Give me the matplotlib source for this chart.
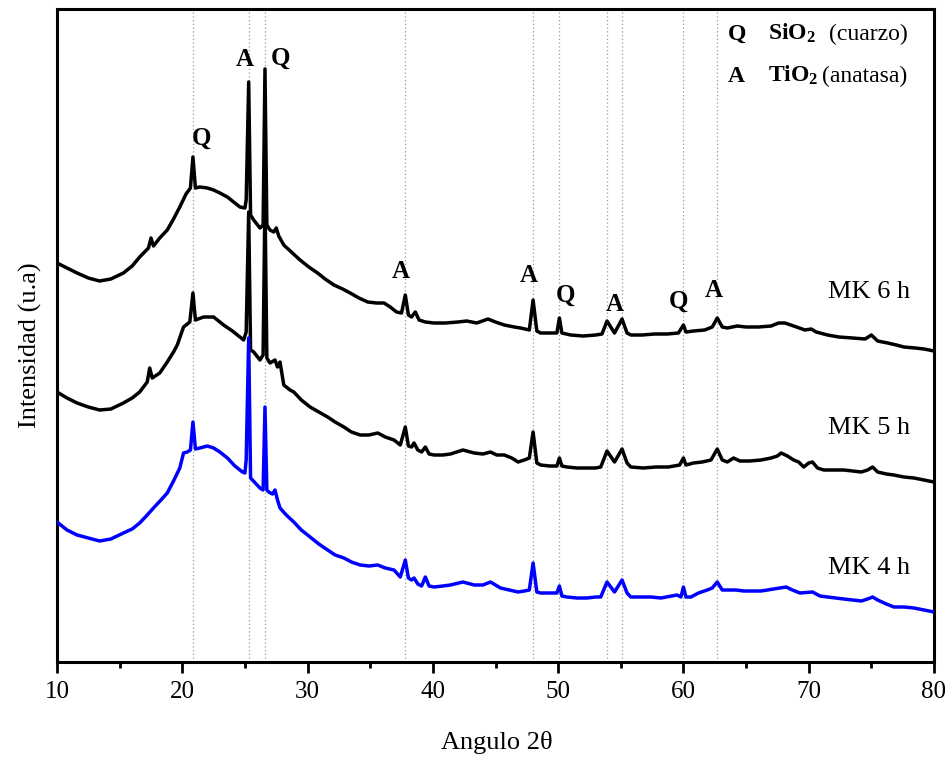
import matplotlib
matplotlib.use("Agg")
import matplotlib.pyplot as plt
from matplotlib.ticker import MultipleLocator

plt.rcParams['font.family'] = ['Liberation Serif', 'DejaVu Serif']
plt.rcParams['mathtext.fontset'] = 'custom'
plt.rcParams['mathtext.rm'] = 'Liberation Serif'
plt.rcParams['mathtext.bf'] = 'Liberation Serif:bold'
plt.rcParams['mathtext.it'] = 'Liberation Serif:italic'

# ---------------- data (2theta, intensity a.u.) ----------------
tt_6h = [10.0, 10.8, 11.6, 12.5, 13.4, 14.3, 15.3, 16.0, 16.6, 17.3, 17.5, 17.7, 18.2, 18.8, 19.3, 19.8,
         20.3, 20.65, 20.85, 21.05, 21.4, 22.0, 22.5, 23.0, 23.6, 24.1, 24.6, 25.0, 25.1, 25.3, 25.45,
         25.7, 26.2, 26.45, 26.6, 26.75, 27.0, 27.3, 27.5, 27.7, 28.1, 28.7, 29.4, 30.1, 30.8, 31.4,
         32.1, 32.8, 33.4, 34.1, 34.8, 35.5, 36.1, 36.6, 37.1, 37.5, 37.8, 38.05, 38.3, 38.6, 38.9,
         39.4, 40.1, 41.0, 42.0, 42.7, 43.5, 44.4, 45.0, 45.7, 46.5, 47.0, 47.7, 48.0, 48.3, 48.6,
         49.5, 49.9, 50.1, 50.3, 51.0, 52.0, 53.0, 53.5, 53.9, 54.5, 55.1, 55.5, 55.8, 56.7, 57.7,
         58.7, 59.6, 60.0, 60.2, 60.8, 61.7, 62.3, 62.7, 63.1, 63.5, 64.3, 65.0, 66.0, 67.0, 67.6,
         68.1, 68.8, 69.7, 70.2, 70.6, 71.5, 72.4, 73.5, 74.5, 75.0, 75.5, 76.3, 77.0, 77.6, 78.5,
         79.2, 80.0]
int_6h = [399, 394, 389, 384, 381, 383, 389, 396, 405, 414, 424, 416, 424, 432, 443, 455,
          468, 474, 505, 474, 475, 474, 472, 469, 465, 460, 455, 454, 462, 580, 447,
          442, 434, 437, 593, 437, 432, 430, 434, 426, 417, 410, 402, 395, 389, 383,
          377, 373, 369, 364, 360, 359, 359, 355, 350, 349, 367, 347, 345, 350, 342,
          340, 339, 339, 340, 341, 339, 343, 340, 337, 335, 334, 332, 362, 331, 329,
          329, 329, 344, 329, 327, 326, 327, 328, 341, 329, 343, 329, 327, 327, 328,
          328, 329, 337, 330, 331, 332, 335, 344, 335, 334, 336, 335, 335, 336, 339,
          339, 336, 332, 333, 330, 327, 325, 324, 323, 327, 321, 319, 317, 315, 314,
          313, 311]

tt_5h = [10.0, 10.8, 11.6, 12.5, 13.4, 14.3, 15.3, 16.0, 16.6, 17.2, 17.4, 17.6, 18.2, 18.8, 19.3, 19.6,
         20.1, 20.6, 20.85, 21.05, 21.7, 22.5, 23.3, 24.0, 24.4, 24.9, 25.1, 25.3, 25.45, 25.7, 26.2,
         26.45, 26.6, 26.75, 27.0, 27.4, 27.6, 27.8, 28.1, 28.6, 28.9, 29.5, 30.2, 30.9, 31.6, 32.2,
         32.9, 33.5, 34.2, 34.9, 35.6, 36.2, 36.9, 37.4, 37.8, 38.05, 38.3, 38.5, 38.8, 39.1, 39.4,
         39.7, 40.1, 40.8, 41.4, 42.4, 43.3, 44.0, 44.6, 45.1, 45.7, 46.3, 46.8, 47.3, 47.7, 48.0,
         48.3, 48.6, 49.3, 49.9, 50.1, 50.3, 50.7, 51.5, 52.3, 53.0, 53.4, 53.9, 54.5, 55.1, 55.5,
         55.8, 56.8, 57.8, 58.8, 59.7, 60.0, 60.2, 60.8, 61.5, 62.2, 62.7, 63.1, 63.5, 64.0, 64.5,
         65.3, 66.2, 67.0, 67.5, 67.8, 68.3, 68.8, 69.2, 69.6, 70.0, 70.3, 70.7, 71.2, 72.0, 72.8,
         73.5, 74.2, 74.7, 75.1, 75.5, 76.2, 76.8, 77.6, 78.4, 79.2, 80.0]
int_5h = [270, 264, 259, 255, 252, 253, 259, 264, 270, 280, 294, 284, 289, 300, 310, 317,
          335, 340, 369, 342, 345, 345, 337, 331, 327, 322, 330, 450, 312, 310, 302,
          307, 462, 304, 299, 302, 295, 300, 277, 272, 270, 262, 255, 250, 245, 240,
          235, 230, 227, 227, 229, 225, 222, 217, 235, 216, 215, 219, 212, 210, 215,
          208, 207, 207, 208, 212, 209, 208, 210, 207, 207, 204, 200, 202, 204, 230,
          199, 197, 196, 196, 204, 196, 195, 194, 194, 194, 195, 211, 200, 213, 199,
          195, 194, 195, 195, 197, 204, 197, 199, 200, 202, 213, 202, 200, 204, 201,
          201, 202, 204, 206, 209, 206, 202, 200, 195, 199, 200, 194, 192, 192, 192,
          191, 190, 192, 195, 190, 188, 187, 185, 184, 182, 180]

tt_4h = [10.0, 10.8, 11.6, 12.5, 13.4, 14.3, 15.3, 16.0, 16.6, 17.2, 17.7, 18.3, 18.8, 19.3, 19.8, 20.1,
         20.4, 20.65, 20.85, 21.05, 21.4, 22.0, 22.5, 23.0, 23.6, 24.2, 24.8, 25.0, 25.1, 25.3, 25.45,
         25.6, 26.2, 26.45, 26.6, 26.75, 26.9, 27.2, 27.4, 27.6, 27.8, 28.3, 28.9, 29.5, 30.2, 30.9,
         31.6, 32.2, 32.9, 33.5, 34.2, 34.9, 35.6, 36.2, 36.9, 37.4, 37.8, 38.05, 38.3, 38.5, 38.8,
         39.1, 39.4, 39.7, 40.1, 40.8, 41.4, 42.4, 43.3, 44.0, 44.6, 45.4, 46.1, 46.8, 47.3, 47.7,
         48.0, 48.3, 48.6, 49.6, 49.9, 50.1, 50.3, 50.7, 51.5, 52.3, 53.0, 53.4, 53.9, 54.5, 55.1,
         55.5, 55.8, 56.6, 57.4, 58.2, 59.5, 59.8, 60.0, 60.2, 60.6, 61.2, 61.9, 62.3, 62.7, 63.1,
         63.5, 64.2, 64.8, 65.5, 66.2, 67.2, 68.2, 68.7, 69.3, 70.3, 70.9, 71.5, 72.8, 74.2, 74.7,
         75.1, 75.5, 76.2, 76.8, 77.6, 78.4, 79.2, 80.0]
int_4h = [140, 132, 127, 124, 121, 123, 129, 133, 139, 147, 154, 162, 169, 181, 194, 209,
          210, 212, 240, 213, 214, 216, 214, 210, 204, 196, 190, 189, 202, 324, 184,
          182, 174, 172, 255, 172, 170, 168, 172, 162, 154, 147, 140, 132, 125, 118,
          112, 107, 104, 100, 97, 96, 97, 94, 92, 85, 102, 84, 82, 84, 78,
          76, 85, 76, 75, 76, 77, 80, 77, 77, 80, 74, 72, 70, 71, 72,
          99, 70, 69, 69, 69, 76, 66, 65, 64, 64, 65, 65, 80, 70, 82,
          69, 65, 65, 65, 64, 67, 65, 75, 65, 65, 69, 72, 74, 80, 72,
          72, 72, 71, 71, 71, 73, 75, 72, 69, 70, 66, 65, 63, 61, 63,
          65, 62, 58, 55, 55, 54, 52, 50]

series_names = ["MK 6 h", "MK 5 h", "MK 4 h"]
series_colors = ["black", "black", "#0000ff"]

# reference peak positions and phase labels
peak_pos = [20.85, 25.3, 26.6, 37.8, 48.0, 50.1, 53.9, 55.1, 60.0, 62.7]
peak_labels = ["Q", "A", "Q", "A", "A", "Q", "A", "Q", "A"]
peak_label_x = [21.5, 25.0, 27.85, 37.42, 47.65, 50.6, 54.5, 59.64, 62.44]
peak_label_y = [517, 596, 597, 384, 380, 360, 351, 354, 365]

# ---------------- figure ----------------
fig = plt.figure(figsize=(9.51, 7.63), dpi=100)
ax = fig.add_axes([57/951, 1-662/763, 877/951, 653.5/763])

for p in peak_pos:
    ax.axvline(p, color="#9a9a9a", ls=(0, (1, 2)), lw=0.9, zorder=1)

ax.plot(tt_6h, int_6h, color=series_colors[0], lw=2.5, zorder=3)
ax.plot(tt_5h, int_5h, color=series_colors[1], lw=2.5, zorder=3)
ax.plot(tt_4h, int_4h, color=series_colors[2], lw=2.5, zorder=4)

ax.set_xlim(10, 80)
ax.set_ylim(0, 653.5)
ax.set_yticks([])
ax.xaxis.set_major_locator(MultipleLocator(10))
ax.xaxis.set_minor_locator(MultipleLocator(5))
ax.tick_params(axis="x", which="major", direction="out", length=8, width=2, labelsize=18, pad=6)
ax.tick_params(axis="x", which="minor", direction="out", length=4.5, width=2)
for s in ax.spines.values():
    s.set_linewidth(2.2)

ax.set_xlabel("Angulo 2θ", fontsize=19)
ax.xaxis.set_label_coords(0.502, -0.105)
ax.set_ylabel("Intensidad (u.a)", fontsize=19)
ax.yaxis.set_label_coords(-0.017, 0.485)

# peak labels
for lab, x, y in zip(peak_labels, peak_label_x, peak_label_y):
    ax.text(x, y, lab, fontsize=18, fontweight="bold", ha="center", va="baseline", zorder=5)

# series labels
ax.text(71.5, 370, series_names[0], fontsize=19, va="center", ha="left")
ax.text(71.5, 234, series_names[1], fontsize=19, va="center", ha="left")
ax.text(71.5, 94, series_names[2], fontsize=19, va="center", ha="left")

# phase key
ax.text(0.765, 0.952, "Q", transform=ax.transAxes, fontsize=17, fontweight="bold", va="baseline")
ax.text(0.811, 0.952, r"$\mathbf{SiO_2}$", transform=ax.transAxes, fontsize=17, va="baseline")
ax.text(0.880, 0.952, "(cuarzo)", transform=ax.transAxes, fontsize=17, va="baseline")
ax.text(0.765, 0.8875, "A", transform=ax.transAxes, fontsize=17, fontweight="bold", va="baseline")
ax.text(0.811, 0.8875, r"$\mathbf{TiO_2}$", transform=ax.transAxes, fontsize=17, va="baseline")
ax.text(0.872, 0.8875, "(anatasa)", transform=ax.transAxes, fontsize=17, va="baseline")

fig.savefig("out.png", dpi=100)
